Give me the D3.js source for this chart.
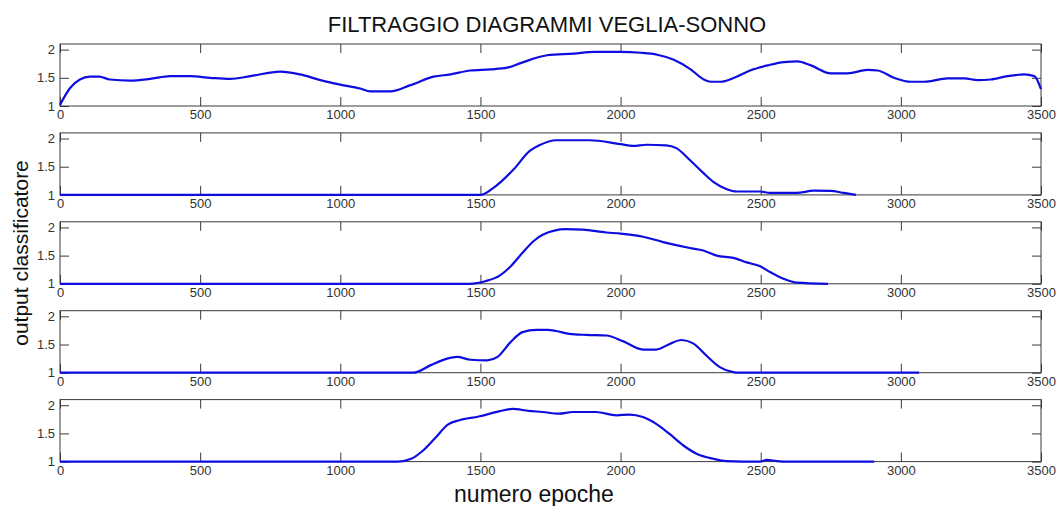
<!DOCTYPE html>
<html>
<head>
<meta charset="utf-8">
<script src="https://cdn.jsdelivr.net/npm/d3@7"></script>
<style>
  html, body { margin: 0; padding: 0; background: #fff; }
  svg { display: block; }
  text { font-family: "Liberation Sans", Arial, sans-serif; }
</style>
</head>
<body>
<svg id="chart" width="1057" height="506"></svg>
<script>
// ---- data ----
const title = "FILTRAGGIO DIAGRAMMI VEGLIA-SONNO";
const xLabel = "numero epoche";
const yLabel = "output classificatore";
const xTicks = [0, 500, 1000, 1500, 2000, 2500, 3000, 3500];
const yTicks = [1, 1.5, 2];

const series1 = [[0,1.02],[36,1.32],[71,1.47],[107,1.52],[140,1.52],[178,1.47],[250,1.45],[321,1.48],[393,1.53],[464,1.53],[536,1.50],[607,1.48],[679,1.53],[786,1.61],[857,1.56],[929,1.46],[1000,1.38],[1071,1.31],[1107,1.26],[1179,1.26],[1250,1.37],[1333,1.52],[1393,1.56],[1464,1.63],[1536,1.65],[1595,1.68],[1643,1.76],[1738,1.90],[1833,1.93],[1905,1.96],[2000,1.96],[2071,1.945],[2131,1.91],[2190,1.82],[2250,1.65],[2297,1.47],[2321,1.43],[2357,1.43],[2405,1.50],[2464,1.635],[2524,1.72],[2583,1.78],[2631,1.79],[2679,1.72],[2750,1.58],[2810,1.58],[2881,1.64],[2917,1.63],[2976,1.50],[3036,1.43],[3083,1.43],[3167,1.49],[3226,1.49],[3274,1.46],[3321,1.47],[3381,1.53],[3440,1.56],[3476,1.53],[3500,1.30]];
const series2 = [[0,1],[1500,1],[1545,1.12],[1618,1.45],[1676,1.78],[1710,1.88],[1770,1.97],[1889,1.97],[2000,1.90],[2044,1.87],[2092,1.89],[2163,1.88],[2199,1.83],[2247,1.62],[2295,1.39],[2331,1.23],[2379,1.10],[2414,1.06],[2498,1.06],[2533,1.035],[2628,1.035],[2689,1.075],[2749,1.07],[2797,1.035],[2840,1.0]];
const series3 = [[0,1],[1460,1],[1520,1.05],[1570,1.15],[1610,1.32],[1650,1.55],[1690,1.76],[1722,1.87],[1805,1.97],[1865,1.96],[1949,1.91],[2000,1.89],[2080,1.835],[2152,1.74],[2247,1.635],[2295,1.59],[2343,1.50],[2403,1.46],[2450,1.38],[2498,1.31],[2533,1.21],[2581,1.09],[2628,1.02],[2740,1.0]];
const series4 = [[0,1],[1261,1],[1321,1.13],[1381,1.25],[1417,1.28],[1465,1.23],[1525,1.22],[1561,1.28],[1609,1.55],[1650,1.72],[1700,1.76],[1740,1.76],[1770,1.74],[1817,1.69],[1877,1.67],[1949,1.66],[2008,1.56],[2080,1.41],[2127,1.41],[2175,1.51],[2217,1.58],[2259,1.52],[2307,1.30],[2354,1.10],[2402,1.01],[2420,1.0],[3065,1.0]];
const series5 = [[0,1],[1205,1],[1253,1.05],[1289,1.17],[1337,1.41],[1385,1.66],[1422,1.73],[1494,1.80],[1566,1.89],[1614,1.935],[1672,1.9],[1722,1.88],[1781,1.85],[1829,1.88],[1913,1.88],[1985,1.82],[2032,1.835],[2080,1.79],[2127,1.67],[2175,1.49],[2223,1.29],[2271,1.14],[2331,1.05],[2378,1.01],[2498,1.0],[2522,1.03],[2557,1.01],[2600,1.0],[2905,1.0]];
const allSeries = [series1, series2, series3, series4, series5];

// ---- layout ----
const svg = d3.select("#chart");
const left = 60, right = 1041;
const top0 = 44, step = 88.9, ph = 62;
const tick = 9;
const axisColor = "#3a3a3a";
const lineColor = "#0d0de0";

const x = d3.scaleLinear().domain([0, 3500]).range([left, right]);

svg.append("text")
  .attr("x", 547).attr("y", 32)
  .attr("text-anchor", "middle")
  .attr("font-size", 22)
  .attr("fill", "#111")
  .text(title);

allSeries.forEach((data, i) => {
  const t = top0 + i * step, b = t + ph;
  const y = d3.scaleLinear().domain([1, 2.1]).range([b, t]);
  const g = svg.append("g");

  const ax = g.append("g").attr("transform", `translate(0,${b})`)
    .call(d3.axisBottom(x).tickValues(xTicks).tickSizeInner(-tick).tickSizeOuter(0).tickPadding(4).tickFormat(d3.format("d")));
  const at = g.append("g").attr("transform", `translate(0,${t})`)
    .call(d3.axisTop(x).tickValues(xTicks).tickSizeInner(-tick).tickSizeOuter(0).tickFormat(""));
  const al = g.append("g").attr("transform", `translate(${left},0)`)
    .call(d3.axisLeft(y).tickValues(yTicks).tickSizeInner(-tick).tickSizeOuter(0).tickPadding(5).tickFormat(d => d3.format("")(d)));
  const ar = g.append("g").attr("transform", `translate(${right},0)`)
    .call(d3.axisRight(y).tickValues(yTicks).tickSizeInner(-tick).tickSizeOuter(0).tickFormat(""));

  [ax, at, al, ar].forEach(a => {
    a.select(".domain").remove();
    a.selectAll("line").attr("stroke", axisColor);
    a.selectAll("text").attr("fill", "#333").attr("font-size", 13)
      .attr("font-family", "'Liberation Sans', Arial, sans-serif");
  });

  g.append("rect")
    .attr("x", left).attr("y", t)
    .attr("width", right - left).attr("height", ph)
    .attr("fill", "none").attr("stroke", axisColor).attr("stroke-width", 1);

  g.append("path")
    .datum(data)
    .attr("fill", "none")
    .attr("stroke", lineColor)
    .attr("stroke-width", 2.2)
    .attr("stroke-linejoin", "round")
    .attr("d", d3.line().x(d => x(d[0])).y(d => y(d[1])).curve(d3.curveMonotoneX));
});

svg.append("text")
  .attr("x", 534).attr("y", 502)
  .attr("text-anchor", "middle")
  .attr("font-size", 23)
  .attr("fill", "#111")
  .text(xLabel);

svg.append("text")
  .attr("transform", "translate(28,253) rotate(-90)")
  .attr("text-anchor", "middle")
  .attr("font-size", 21)
  .attr("fill", "#111")
  .text(yLabel);
</script>
</body>
</html>
